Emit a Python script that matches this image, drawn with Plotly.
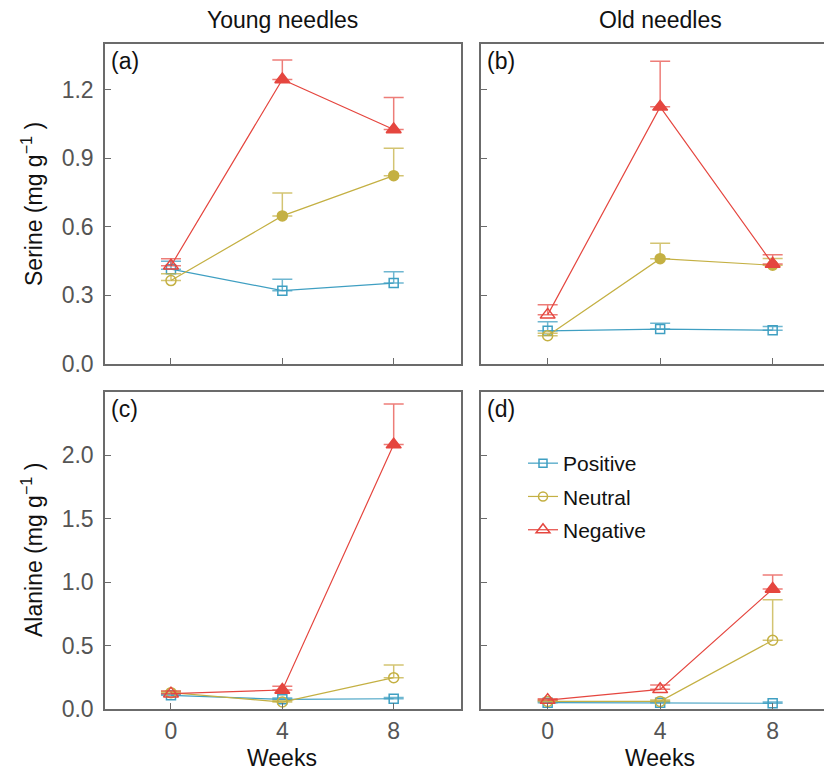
import plotly.graph_objects as go
from plotly.subplots import make_subplots

weeks = [0, 4, 8]
groups = ["Positive", "Neutral", "Negative"]

# Serine, young needles (a)
ser_young = {"Positive": [0.415, 0.321, 0.354], "Neutral": [0.365, 0.648, 0.824], "Negative": [0.43, 1.245, 1.026]}
ser_young_se = {"Positive": [0.035, 0.05, 0.05], "Neutral": [0.03, 0.10, 0.12], "Negative": [0.03, 0.085, 0.14]}
# Serine, old needles (b)
ser_old = {"Positive": [0.145, 0.153, 0.148], "Neutral": [0.124, 0.461, 0.432], "Negative": [0.215, 1.125, 0.438]}
ser_old_se = {"Positive": [0.04, 0.025, 0.016], "Neutral": [0.01, 0.067, 0.03], "Negative": [0.044, 0.2, 0.04]}
# Alanine, young needles (c)
ala_young = {"Positive": [0.108, 0.076, 0.081], "Neutral": [0.129, 0.055, 0.247], "Negative": [0.121, 0.15, 2.085]}
ala_young_se = {"Positive": [0.01, 0.01, 0.01], "Neutral": [0.01, 0.01, 0.10], "Negative": [0.02, 0.03, 0.32]}
# Alanine, old needles (d)
ala_old = {"Positive": [0.05, 0.05, 0.045], "Neutral": [0.06, 0.06, 0.542], "Negative": [0.07, 0.155, 0.946]}
ala_old_se = {"Positive": [0.01, 0.01, 0.01], "Neutral": [0.01, 0.01, 0.32], "Negative": [0.01, 0.035, 0.11]}

# significant difference vs. week 0 (filled symbols)
sig_a = {"Positive": [0, 0, 0], "Neutral": [0, 1, 1], "Negative": [0, 1, 1]}
sig_b = {"Positive": [0, 0, 0], "Neutral": [0, 1, 1], "Negative": [0, 1, 1]}
sig_c = {"Positive": [0, 0, 0], "Neutral": [0, 0, 0], "Negative": [0, 1, 1]}
sig_d = {"Positive": [0, 0, 0], "Neutral": [0, 0, 0], "Negative": [0, 0, 1]}

panel_labels = ["(a)", "(b)", "(c)", "(d)"]
col_titles = ["Young needles", "Old needles"]
row_titles = ["Serine (mg g<sup>−1</sup> )", "Alanine (mg g<sup>−1</sup> )"]
x_title = "Weeks"

colors = {"Positive": "#3f9fc2", "Neutral": "#c4b043", "Negative": "#e5463f"}
ecolors = {"Positive": "rgba(63,159,194,0.75)", "Neutral": "rgba(196,176,67,0.75)", "Negative": "rgba(229,70,63,0.7)"}
base_sym = {"Positive": "square", "Neutral": "circle", "Negative": "triangle-up"}
msize = {"Positive": 9, "Neutral": 10, "Negative": 13}

OFF = 8  # page body margin
W, H = 824, 765
# page coordinates of plot area
PL, PR, PT, PB = 105, 832, 44, 709
L, R, T = PL - OFF, 0, PT - OFF
B = H - (PB - OFF)
pw, ph = W - L - R, H - T - B

def px_x(p):
    return (p - OFF - L) / pw

def px_y(p):
    return (H - B - (p - OFF)) / ph

fig = make_subplots(rows=2, cols=2)

panels = [
    (1, 1, ser_young, ser_young_se, sig_a),
    (1, 2, ser_old, ser_old_se, sig_b),
    (2, 1, ala_young, ala_young_se, sig_c),
    (2, 2, ala_old, ala_old_se, sig_d),
]

for r, c, vals, ses, sig in panels:
    for g in groups:
        syms = [base_sym[g] if s else base_sym[g] + "-open" for s in sig[g]]
        fig.add_trace(go.Scatter(
            x=weeks, y=vals[g], mode="lines+markers",
            line=dict(color=colors[g], width=1.2),
            marker=dict(symbol=syms, size=msize[g], color=colors[g],
                        line=dict(color=colors[g], width=1.5)),
            error_y=dict(type="data", array=ses[g], arrayminus=[0] * len(ses[g]),
                         symmetric=False, color=ecolors[g], thickness=1.5, width=10),
            showlegend=False, cliponaxis=False,
        ), row=r, col=c)

# legend entries (shown in panel d)
for g in groups:
    fig.add_trace(go.Scatter(
        x=[None], y=[None], mode="lines+markers", name=g, legendgroup=g,
        line=dict(color=colors[g], width=1.2),
        marker=dict(symbol=base_sym[g] + "-open", size=msize[g] - 1, color=colors[g],
                    line=dict(color=colors[g], width=1.5)),
        showlegend=True,
    ), row=2, col=2)

xa_dom_left = [0, px_x(460.5)]
xa_dom_right = [px_x(481), 1]
ya_dom_top = [px_y(364), 1]
ya_dom_bot = [0, px_y(392)]

FAM = "Liberation Sans, Arial, sans-serif"
axis_color = "#6b6b6b"
tick_font = dict(family=FAM, size=23, color="#555555")

common_x = dict(showline=True, linecolor=axis_color, linewidth=1.5, ticks="inside",
                ticklen=6, tickcolor=axis_color, tickwidth=1.2, showgrid=False,
                zeroline=False, tickvals=weeks, tickfont=tick_font, ticklabelstandoff=1)
common_y = dict(showline=True, linecolor=axis_color, linewidth=1.5, ticks="inside",
                ticklen=6, tickcolor=axis_color, tickwidth=1.2, showgrid=False,
                zeroline=False, tickfont=tick_font, ticklabelstandoff=5)

fig.update_layout(
    xaxis=dict(**common_x, domain=xa_dom_left, range=[-2.37, 10.4], mirror=True, showticklabels=False),
    xaxis2=dict(**common_x, domain=xa_dom_right, range=[-2.37, 10.11], mirror=True, showticklabels=False),
    xaxis3=dict(**common_x, domain=xa_dom_left, range=[-2.37, 10.4], mirror=True),
    xaxis4=dict(**common_x, domain=xa_dom_right, range=[-2.37, 10.11], mirror=True),
    yaxis=dict(**common_y, domain=ya_dom_top, range=[0, 1.4], mirror=True,
               tickvals=[0, 0.3, 0.6, 0.9, 1.2], ticktext=["0.0", "0.3", "0.6", "0.9", "1.2"]),
    yaxis2=dict(**common_y, domain=ya_dom_top, range=[0, 1.4], mirror=False,
                tickvals=[0, 0.3, 0.6, 0.9, 1.2], showticklabels=False),
    yaxis3=dict(**common_y, domain=ya_dom_bot, range=[0, 2.5], mirror=True,
                tickvals=[0, 0.5, 1.0, 1.5, 2.0], ticktext=["0.0", "0.5", "1.0", "1.5", "2.0"]),
    yaxis4=dict(**common_y, domain=ya_dom_bot, range=[0, 2.5], mirror=False,
                tickvals=[0, 0.5, 1.0, 1.5, 2.0], showticklabels=False),
)

font_main = dict(family=FAM, size=23, color="#111111")
annos = []
xrefs = ["x", "x2", "x3", "x4"]
yrefs = ["y", "y2", "y3", "y4"]
for i, lab in enumerate(panel_labels):
    annos.append(dict(text=lab, xref=xrefs[i] + " domain", yref=yrefs[i] + " domain",
                      x=0.012, y=0.995, xanchor="left", yanchor="top", showarrow=False,
                      font=font_main))
for i, t in enumerate(col_titles):
    annos.append(dict(text=t, xref=["x", "x2"][i], yref="paper", x=4, y=px_y(20),
                      xanchor="center", yanchor="middle", showarrow=False, font=font_main))
    annos.append(dict(text=x_title, xref=["x3", "x4"][i], yref="paper", x=4, y=px_y(758),
                      xanchor="center", yanchor="middle", showarrow=False, font=font_main))
for i, t in enumerate(row_titles):
    annos.append(dict(text=t, xref="paper", yref="paper", x=px_x(32),
                      y=px_y([204, 550][i]), xanchor="center", yanchor="middle",
                      textangle=-90, showarrow=False,
                      font=dict(family=FAM, size=23, color="#111111")))

fig.update_layout(
    width=W, height=H,
    margin=dict(l=L, r=R, t=T, b=B, pad=0),
    paper_bgcolor="white", plot_bgcolor="white",
    annotations=annos,
    showlegend=True,
    legend=dict(x=px_x(523), y=px_y(443), xanchor="left", yanchor="top",
                bgcolor="rgba(0,0,0,0)", borderwidth=0, itemwidth=30,
                traceorder="grouped", tracegroupgap=3,
                font=dict(family=FAM, size=21, color="#111111")),
)

fig.write_html("out.html")
